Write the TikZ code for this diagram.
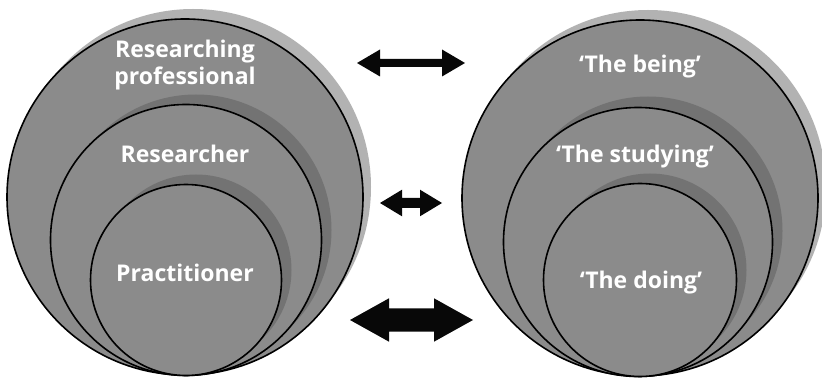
\documentclass[tikz,border=0pt]{standalone}
\usepackage{fontspec}
\setmainfont{Open Sans}
\definecolor{discfill}{RGB}{139,139,139}
\definecolor{shadowlight}{RGB}{178,178,178}
\definecolor{shadowdark}{RGB}{115,115,115}
\definecolor{arrowfill}{RGB}{8,8,8}
\newcommand\dblarr[6]{%
\fill[arrowfill] (#1,#3) -- (#1+#4,#3-#5) -- (#1+#4,#3-#6) -- (#2-#4,#3-#6) -- (#2-#4,#3-#5) -- (#2,#3) -- (#2-#4,#3+#5) -- (#2-#4,#3+#6) -- (#1+#4,#3+#6) -- (#1+#4,#3+#5) -- cycle;}
\tikzset{
  disc/.style={circle, draw=black, line width=1.6pt, fill=discfill, inner sep=0pt, outer sep=0pt, minimum size=#1},
  lightshade/.style={circle, fill=shadowlight, inner sep=0pt, outer sep=0pt, minimum size=#1},
  darkshade/.style={circle, fill=shadowdark, inner sep=0pt, outer sep=0pt, minimum size=#1},
  label/.style={text=white, font=\bfseries\fontsize{23}{27}\selectfont, inner sep=0pt, anchor=base}
}
\begin{document}
\begin{tikzpicture}[x=1pt,y=-1pt]
\useasboundingbox (0,0) rectangle (822,379);
% left set
\node[lightshade=356pt] (lso) at (193,187) {};
\node[disc=356pt] (lo) at (185,197) {};
\node[darkshade=271pt] (lsm) at (196,230) {};
\node[disc=271pt] (lm) at (186,240) {};
\node[darkshade=191pt] (lsi) at (196,270) {};
\node[disc=191pt] (li) at (186,280) {};
% right set
\node[lightshade=356pt] (rso) at (648,188) {};
\node[disc=356pt] (ro) at (640,198) {};
\node[darkshade=269pt] (rsm) at (648,231) {};
\node[disc=269pt] (rm) at (638,242) {};
\node[darkshade=193pt] (rsi) at (650,270) {};
\node[disc=193pt] (ri) at (640,280) {};
% labels
\node[label] (t1a) at (185,58) {Researching};
\node[label] (t1b) at (185,85) {professional};
\node[label] (t2) at (185,163) {Researcher};
\node[label] (t3) at (185,282) {Practitioner};
\node[label] (t4) at (640,73) {‘The being’};
\node[label] (t5) at (635,163) {‘The studying’};
\node[label] (t6) at (641,289) {‘The doing’};
% arrows
\dblarr{357}{465}{63}{23}{13.5}{4}
\dblarr{380}{442}{203}{22}{13.3}{5}
\dblarr{350}{473}{320}{39}{21.7}{11.7}
\end{tikzpicture}
\end{document}
